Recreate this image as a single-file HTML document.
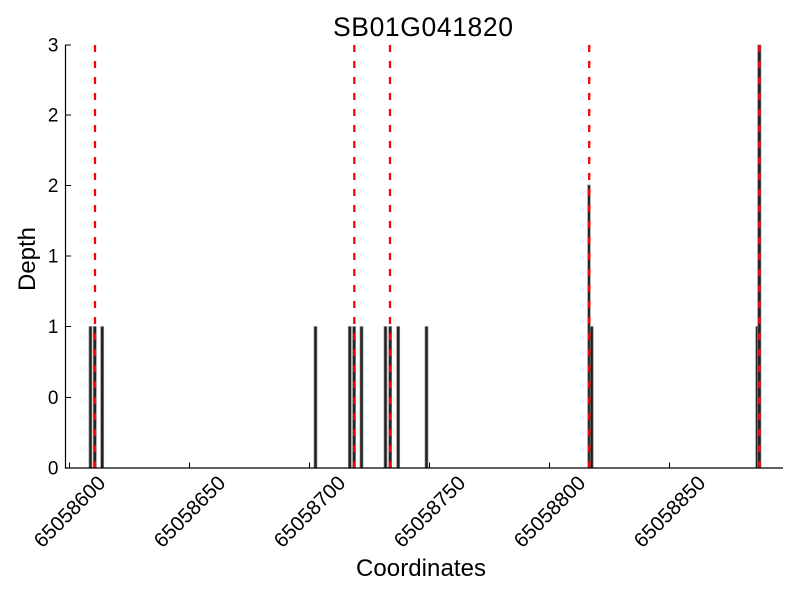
<!DOCTYPE html>
<html>
<head>
<meta charset="utf-8">
<style>
html,body{margin:0;padding:0;background:#fff;}
svg{display:block;}
text{font-family:"Liberation Sans","DejaVu Sans",sans-serif;fill:#000;}
</style>
</head>
<body>
<svg width="800" height="600" viewBox="0 0 800 600" xmlns="http://www.w3.org/2000/svg">
<rect x="0" y="0" width="800" height="600" fill="#fff"/>

<!-- title -->
<text x="423" y="36" font-size="26.5" text-anchor="middle" textLength="180" lengthAdjust="spacing">SB01G041820</text>

<!-- bars -->
<g fill="#222" stroke="#8a8a8a" stroke-width="0.7">
  <rect x="89" y="326.5" width="2.9" height="141.5"/>
  <rect x="93.3" y="326.5" width="3" height="141.5"/>
  <rect x="100.7" y="326.5" width="3" height="141.5"/>

  <rect x="314" y="326.5" width="3" height="141.5"/>
  <rect x="348.3" y="326.5" width="3" height="141.5"/>
  <rect x="352.6" y="326.5" width="3" height="141.5"/>
  <rect x="360" y="326.5" width="3" height="141.5"/>
  <rect x="384" y="326.5" width="3" height="141.5"/>
  <rect x="388.7" y="326.5" width="3" height="141.5"/>
  <rect x="396.7" y="326.5" width="3" height="141.5"/>
  <rect x="425" y="326.5" width="3" height="141.5"/>

  <rect x="587.7" y="185" width="2.6" height="283"/>
  <rect x="590.2" y="326.5" width="3" height="141.5"/>

  <rect x="755.7" y="326.5" width="2.5" height="141.5"/>
  <rect x="757.7" y="45" width="3.3" height="423"/>
</g>

<!-- red dashed lines -->
<g stroke="#ff0000" stroke-width="2.3" stroke-dasharray="7 9" fill="none">
  <line x1="95" y1="45" x2="95" y2="468"/>
  <line x1="354.3" y1="45" x2="354.3" y2="468"/>
  <line x1="390" y1="45" x2="390" y2="468"/>
  <line x1="589.2" y1="45" x2="589.2" y2="468"/>
  <line x1="759.2" y1="45" x2="759.2" y2="468"/>
</g>

<!-- axes -->
<g stroke="#000" stroke-width="1.2" fill="none">
  <line x1="65.5" y1="45" x2="65.5" y2="468.6"/>
  <line x1="65" y1="468" x2="783" y2="468"/>
</g>

<!-- y ticks -->
<g stroke="#000" stroke-width="1">
  <line x1="65" y1="468" x2="71" y2="468"/>
  <line x1="65" y1="397.5" x2="71" y2="397.5"/>
  <line x1="65" y1="326.5" x2="71" y2="326.5"/>
  <line x1="65" y1="256" x2="71" y2="256"/>
  <line x1="65" y1="185.5" x2="71" y2="185.5"/>
  <line x1="65" y1="115" x2="71" y2="115"/>
  <line x1="65" y1="45" x2="71" y2="45"/>
</g>
<g font-size="19" text-anchor="end">
  <text x="58.5" y="474.5">0</text>
  <text x="58.5" y="404">0</text>
  <text x="58.5" y="333">1</text>
  <text x="58.5" y="262.5">1</text>
  <text x="58.5" y="192">2</text>
  <text x="58.5" y="121.5">2</text>
  <text x="58.5" y="51.5">3</text>
</g>

<!-- x ticks -->
<g stroke="#000" stroke-width="1">
  <line x1="69.5" y1="462.5" x2="69.5" y2="468"/>
  <line x1="189.5" y1="462.5" x2="189.5" y2="468"/>
  <line x1="309.5" y1="462.5" x2="309.5" y2="468"/>
  <line x1="429.5" y1="462.5" x2="429.5" y2="468"/>
  <line x1="549.5" y1="462.5" x2="549.5" y2="468"/>
  <line x1="669.5" y1="462.5" x2="669.5" y2="468"/>
</g>
<g font-size="20.5" text-anchor="middle">
  <text x="0" y="7" transform="translate(69.5,511.5) rotate(-45)">65058600</text>
  <text x="0" y="7" transform="translate(189.5,511.5) rotate(-45)">65058650</text>
  <text x="0" y="7" transform="translate(309.5,511.5) rotate(-45)">65058700</text>
  <text x="0" y="7" transform="translate(429.5,511.5) rotate(-45)">65058750</text>
  <text x="0" y="7" transform="translate(549.5,511.5) rotate(-45)">65058800</text>
  <text x="0" y="7" transform="translate(669.5,511.5) rotate(-45)">65058850</text>
</g>

<!-- axis labels -->
<text x="421" y="576" font-size="24" text-anchor="middle" textLength="130" lengthAdjust="spacing">Coordinates</text>
<text x="0" y="0" font-size="24" text-anchor="middle" transform="translate(35,259) rotate(-90)">Depth</text>
</svg>
</body>
</html>
